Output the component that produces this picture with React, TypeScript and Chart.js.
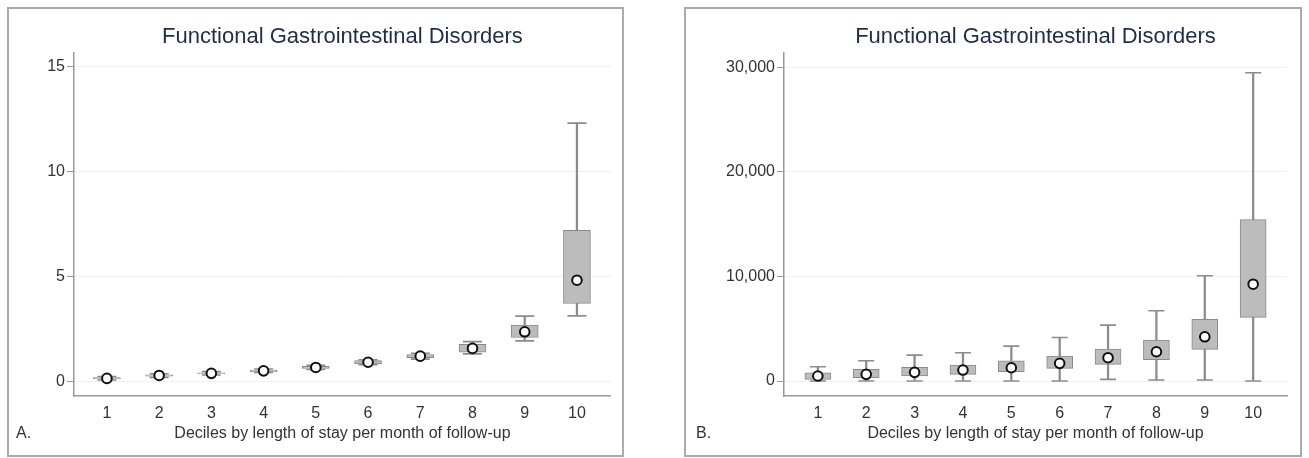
import React, { useEffect, useRef } from "react";
import { Chart, registerables } from "chart.js";

Chart.register(...registerables);

// ---------- data ----------
const deciles = [1, 2, 3, 4, 5, 6, 7, 8, 9, 10];
const chartTitle = "Functional Gastrointestinal Disorders";
const xAxisTitle = "Deciles by length of stay per month of follow-up";

// Panel A (per-month length of stay)
const aLow = [0.05, 0.18, 0.29, 0.41, 0.55, 0.78, 1.05, 1.3, 1.92, 3.11];
const aQ1 = [0.1, 0.23, 0.34, 0.45, 0.6, 0.82, 1.12, 1.38, 2.08, 3.7];
const aQ3 = [0.17, 0.3, 0.4, 0.53, 0.7, 0.98, 1.27, 1.75, 2.67, 7.19];
const aHigh = [0.22, 0.35, 0.45, 0.58, 0.75, 1.02, 1.33, 1.88, 3.1, 12.3];
const aMean = [0.13, 0.27, 0.37, 0.49, 0.65, 0.9, 1.19, 1.56, 2.35, 4.81];
const aYTicks = [0, 5, 10, 15];

// Panel B (costs)
const bLow = [0, 0, 0, 0, 0, 0, 160, 100, 100, 0];
const bQ1 = [160, 320, 480, 640, 890, 1210, 1590, 2040, 3030, 6080];
const bQ3 = [790, 1120, 1310, 1530, 1940, 2390, 3060, 3920, 5890, 15440];
const bHigh = [1370, 1940, 2480, 2700, 3340, 4170, 5350, 6720, 10060, 29480];
const bMean = [480, 640, 830, 1050, 1270, 1690, 2230, 2800, 4230, 9260];
const bYTicks = [0, 10000, 20000, 30000];

const FONT = "'Liberation Sans', Arial, Helvetica, sans-serif";
const TEXT = "#333333";
const AXIS = "#9a9a9a";
const BOXFILL = "#bcbcbc";
const WHISK = "#8c8c8c";

type PanelProps = {
  low: number[];
  q1: number[];
  q3: number[];
  high: number[];
  mean: number[];
  yTicks: number[];
  yMin: number;
  yMax: number;
  xMin: number;
  xMax: number;
  fmt: (v: number) => string;
  width: number;
  height: number;
  yAxisWidth: number;
  padRight: number;
  boxWidth: number;
  capRadius: number;
};

function BoxPanel(p: PanelProps) {
  const ref = useRef<HTMLCanvasElement | null>(null);
  useEffect(() => {
    if (!ref.current) return;
    const pts = (arr: number[]) => deciles.map((d, i) => ({ x: d, y: arr[i] }));
    const rng = (a: number[], b: number[]) =>
      deciles.map((d, i) => ({ x: d, y: [a[i], b[i]] }));
    const chart = new Chart(ref.current, {
      type: "bar",
      data: {
        datasets: [
          {
            type: "bar",
            data: rng(p.low, p.high) as any,
            barThickness: 1.6,
            backgroundColor: WHISK,
            borderWidth: 0,
            grouped: false,
            order: 3,
          } as any,
          {
            type: "line",
            data: pts(p.low),
            showLine: false,
            pointStyle: "line",
            pointRadius: p.capRadius,
            pointBorderColor: WHISK,
            borderColor: WHISK,
            pointBorderWidth: 1.6,
            order: 2,
          } as any,
          {
            type: "line",
            data: pts(p.high),
            showLine: false,
            pointStyle: "line",
            pointRadius: p.capRadius,
            pointBorderColor: WHISK,
            borderColor: WHISK,
            pointBorderWidth: 1.6,
            order: 2,
          } as any,
          {
            type: "bar",
            data: rng(p.q1, p.q3) as any,
            barThickness: p.boxWidth,
            backgroundColor: BOXFILL,
            borderColor: "#8a8a8a",
            borderWidth: 1,
            borderSkipped: false,
            grouped: false,
            order: 1,
          } as any,
          {
            type: "line",
            data: pts(p.mean),
            showLine: false,
            pointStyle: "circle",
            pointRadius: 4.8,
            pointBackgroundColor: "#ffffff",
            pointBorderColor: "#111111",
            borderColor: "#111111",
            pointBorderWidth: 2,
            order: 0,
          } as any,
        ],
      },
      options: {
        responsive: false,
        animation: false,
        events: [],
        layout: { padding: { left: 0, right: p.padRight, top: 0, bottom: 0 } },
        plugins: {
          legend: { display: false },
          tooltip: { enabled: false },
          title: {
            display: true,
            text: chartTitle,
            fullSize: false,
            color: "#1f2c4f",
            font: { family: FONT, size: 22, weight: "normal" },
            padding: { top: 15, bottom: 2 },
          },
        },
        scales: {
          x: {
            type: "linear",
            offset: false,
            min: p.xMin,
            max: p.xMax,
            afterBuildTicks: (s: any) => {
              s.ticks = deciles.map((v) => ({ value: v }));
            },
            afterFit: (s: any) => {
              s.height = 59;
            },
            grid: { display: false, drawTicks: false, offset: false },
            border: { display: true, color: AXIS, width: 1.5 },
            ticks: {
              padding: 8,
              color: TEXT,
              font: { family: FONT, size: 16 },
              callback: (v: any) => String(v),
            },
            title: {
              display: true,
              text: xAxisTitle,
              color: TEXT,
              font: { family: FONT, size: 16 },
              padding: { top: 0, bottom: 12 },
            },
          },
          y: {
            type: "linear",
            min: p.yMin,
            max: p.yMax,
            afterBuildTicks: (s: any) => {
              s.ticks = p.yTicks.map((v) => ({ value: v }));
            },
            afterFit: (s: any) => {
              s.width = p.yAxisWidth;
            },
            grid: { color: "#f0f0f0", tickColor: "#999999", tickLength: 7, lineWidth: 1 },
            border: { display: true, color: AXIS, width: 1.5 },
            ticks: {
              padding: 2,
              color: TEXT,
              font: { family: FONT, size: 16 },
              callback: (v: any) => p.fmt(Number(v)),
            },
          },
        },
      } as any,
    });
    return () => chart.destroy();
  }, []);
  return (
    <canvas
      ref={ref}
      width={p.width}
      height={p.height}
      style={{ position: "absolute", left: 0, top: 0, width: p.width, height: p.height }}
    />
  );
}

const frame: React.CSSProperties = {
  position: "absolute",
  top: 7,
  height: 450,
  border: "2px solid #ababab",
  boxSizing: "border-box",
  background: "#fff",
};

const panelLabel: React.CSSProperties = {
  position: "absolute",
  top: 424,
  fontFamily: FONT,
  fontSize: 16,
  lineHeight: "18px",
  color: TEXT,
};

export default function App() {
  return (
    <div
      style={{
        position: "fixed",
        left: 0,
        top: 0,
        width: 1309,
        height: 458,
        background: "#ffffff",
        overflow: "hidden",
      }}
    >
      <div style={{ ...frame, left: 7, width: 617 }}>
        <BoxPanel
          low={aLow}
          q1={aQ1}
          q3={aQ3}
          high={aHigh}
          mean={aMean}
          yTicks={aYTicks}
          yMin={-0.71}
          yMax={15.67}
          xMin={0.37}
          xMax={10.65}
          fmt={(v) => String(v)}
          width={613}
          height={446}
          yAxisWidth={65}
          padRight={9}
          boxWidth={27}
          capRadius={9.5}
        />
      </div>
      <div style={{ ...frame, left: 684, width: 618 }}>
        <BoxPanel
          low={bLow}
          q1={bQ1}
          q3={bQ3}
          high={bHigh}
          mean={bMean}
          yTicks={bYTicks}
          yMin={-1430}
          yMax={31420}
          xMin={0.3}
          xMax={10.7}
          fmt={(v) => v.toLocaleString("en-US")}
          width={614}
          height={446}
          yAxisWidth={98}
          padRight={13}
          boxWidth={26}
          capRadius={8}
        />
      </div>
      <div style={{ ...panelLabel, left: 16 }}>A.</div>
      <div style={{ ...panelLabel, left: 696 }}>B.</div>
    </div>
  );
}
